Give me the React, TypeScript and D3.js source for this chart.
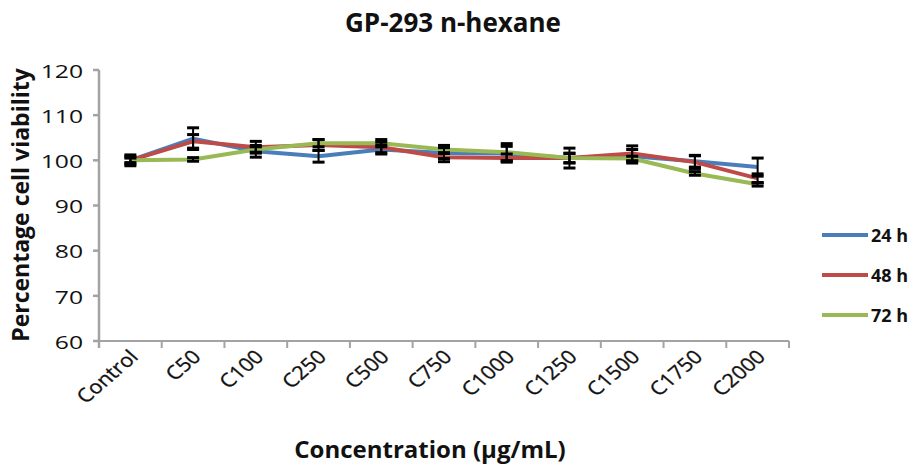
import React from "react";
import * as d3 from "d3";

const width = 914;
const height = 467;
const margin = { top: 70, right: 125, bottom: 126, left: 99 };

const categories = ["Control", "C50", "C100", "C250", "C500", "C750", "C1000", "C1250", "C1500", "C1750", "C2000"];
const yTicks = [60, 70, 80, 90, 100, 110, 120];

const h24 = [100, 104.8, 102.0, 100.9, 102.4, 101.6, 101.5, 100.5, 100.9, 99.8, 98.5];
const h48 = [100, 104.2, 102.9, 103.4, 102.9, 100.7, 100.5, 100.5, 101.5, 99.6, 96.0];
const h72 = [100, 100.2, 102.4, 103.8, 103.8, 102.4, 101.8, 100.5, 100.4, 97.1, 94.7];

const err24 = [1.2, 2.4, 1.3, 1.3, 1.0, 1.2, 1.6, 1.0, 1.5, 1.3, 2.0];
const err48 = [0.8, 1.5, 1.3, 1.2, 1.2, 1.0, 0.9, 1.1, 1.7, 1.4, 1.0];
const err72 = [0.5, 0.4, 0.6, 0.8, 0.8, 0.9, 1.9, 2.2, 0.5, 0.4, 0.4];

const seriesNames = ["24 h", "48 h", "72 h"];
const seriesColors = ["#4a7ebb", "#be4b48", "#98b954"];

const series = [
  { name: seriesNames[0], values: h24, errors: err24, color: seriesColors[0] },
  { name: seriesNames[1], values: h48, errors: err48, color: seriesColors[1] },
  { name: seriesNames[2], values: h72, errors: err72, color: seriesColors[2] },
];

const font = "'Open Sans', sans-serif";
const axisColor = "#a3a3a3";

export default function App() {
  const x = d3.scaleBand<string>()
    .domain(categories)
    .range([margin.left, width - margin.right])
    .padding(0);
  const y = d3.scaleLinear()
    .domain([60, 120])
    .range([height - margin.bottom, margin.top]);

  const cx = (c: string) => (x(c) ?? 0) + x.bandwidth() / 2;

  const line = d3.line<number>()
    .x((_, i) => cx(categories[i]))
    .y(d => y(d));

  const x0 = margin.left;
  const x1 = width - margin.right;
  const yBase = y(60);

  const legendY = d3.scalePoint<string>().domain(seriesNames).range([235, 315]);

  return (
    <svg width={width} height={height} style={{ position: "absolute", left: 0, top: 0, background: "#fff" }}>
      {/* title */}
      <text x={453} y={32} textAnchor="middle" fontFamily={font} fontWeight={700} fontSize={26} fill="#111">
        GP-293 n-hexane
      </text>

      {/* y axis */}
      <line x1={x0} x2={x0} y1={y(120)} y2={yBase + 7} stroke={axisColor} strokeWidth={2.5} />
      {yTicks.map(t => (
        <g key={t}>
          <line x1={x0 - 6} x2={x0} y1={y(t)} y2={y(t)} stroke={axisColor} strokeWidth={2.5} />
          <text
            transform={`translate(83,${y(t)}) scale(1.3,1)`}
            textAnchor="end"
            dominantBaseline="central"
            fontFamily={font}
            fontSize={19}
            fill="#111"
          >
            {t}
          </text>
        </g>
      ))}

      {/* x axis */}
      <line x1={x0} x2={x1} y1={yBase} y2={yBase} stroke={axisColor} strokeWidth={2} />
      {categories.map(c => (
        <line key={"t" + c} x1={(x(c) ?? 0) + x.bandwidth()} x2={(x(c) ?? 0) + x.bandwidth()} y1={yBase} y2={yBase + 7} stroke={axisColor} strokeWidth={2} />
      ))}
      {categories.map(c => (
        <text
          key={"l" + c}
          transform={`translate(${cx(c) + 9},${yBase + 17}) scale(1.15,1) rotate(-45)`}
          textAnchor="end"
          fontFamily={font}
          fontSize={19}
          fill="#111"
          stroke="#111"
          strokeWidth={0.3}
        >
          {c}
        </text>
      ))}

      {/* lines */}
      {series.map(s => (
        <path key={s.name} d={line(s.values) ?? ""} fill="none" stroke={s.color} strokeWidth={4} strokeLinejoin="round" />
      ))}

      {/* error bars */}
      {series.map(s => (
        <g key={"e" + s.name} stroke="#000" strokeWidth={2}>
          {s.values.map((v, i) => {
            const px = cx(categories[i]);
            const top = y(v + s.errors[i]);
            const bot = y(v - s.errors[i]);
            return (
              <g key={i}>
                <line x1={px} x2={px} y1={top} y2={bot} />
                <line x1={px - 6} x2={px + 6} y1={top} y2={top} strokeWidth={3} />
                <line x1={px - 6} x2={px + 6} y1={bot} y2={bot} strokeWidth={3} />
              </g>
            );
          })}
        </g>
      ))}

      {/* axis titles */}
      <text
        transform={`translate(29,205) rotate(-90)`}
        textAnchor="middle"
        fontFamily={font}
        fontWeight={700}
        fontSize={23}
        fill="#111"
      >
        Percentage  cell viability
      </text>
      <text x={430} y={458} textAnchor="middle" fontFamily={font} fontWeight={700} fontSize={24} fill="#111">
        Concentration (µg/mL)
      </text>

      {/* legend */}
      {series.map(s => (
        <g key={"lg" + s.name}>
          <line x1={822} x2={868} y1={legendY(s.name)} y2={legendY(s.name)} stroke={s.color} strokeWidth={4} />
          <text x={871} y={legendY(s.name)} dominantBaseline="central" fontFamily={font} fontWeight={700} fontSize={18} fill="#111">
            {s.name}
          </text>
        </g>
      ))}
    </svg>
  );
}
